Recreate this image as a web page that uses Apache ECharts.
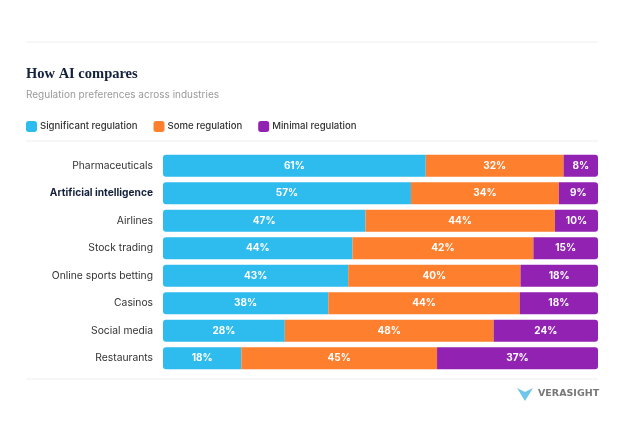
<!DOCTYPE html>
<html><head><meta charset="utf-8">
<script src="https://cdn.jsdelivr.net/npm/echarts@6/dist/echarts.min.js"></script>
<style>html,body{margin:0;padding:0;background:#fff}#c{width:624px;height:424px}</style>
</head><body><div id="c"></div>
<script>
const categories = ["Pharmaceuticals","Artificial intelligence","Airlines","Stock trading","Online sports betting","Casinos","Social media","Restaurants"];
const significant = [61,57,47,44,43,38,28,18];
const some = [32,34,44,42,40,44,48,45];
const minimal = [8,9,10,15,18,18,24,37];
const seriesNames = ["Significant regulation","Some regulation","Minimal regulation"];
const colors = ["#2EBBEE","#FE7F2D","#9222B2"];

const raw = [significant, some, minimal];
const totals = categories.map((c,i)=>significant[i]+some[i]+minimal[i]);
const radii = [[3,0,0,3],[0,0,0,0],[0,3,3,0]];

const chart = echarts.init(document.getElementById('c'));
chart.setOption({
  animation:false,
  backgroundColor:'#fff',
  color: colors,
  title:{
    text:'How AI compares', left:26, top:67, padding:0,
    textStyle:{fontFamily:'Liberation Serif', fontWeight:'bold', fontSize:14.5, color:'#14213d'},
    subtext:'Regulation preferences across industries',
    subtextStyle:{fontFamily:'Inter', fontSize:10, color:'#9a9a9a'}, itemGap:8
  },
  legend:{
    left:26, top:121, padding:0, itemWidth:11, itemHeight:11, itemGap:16,
    icon:'roundRect',
    textStyle:{fontFamily:'Inter', fontSize:9.6, color:'#333', fontWeight:500, padding:[0,0,0,-2]},
    data: seriesNames
  },
  grid:{left:163, right:26, top:152, bottom:52},
  xAxis:{type:'value', min:0, max:100, show:false},
  yAxis:{
    type:'category', inverse:true, data:categories,
    axisLine:{show:false}, axisTick:{show:false},
    axisLabel:{
      margin:10, fontFamily:'Inter', fontSize:10.3, color:'#333',
      formatter:(v)=> v==='Artificial intelligence' ? '{b|'+v+'}' : v,
      rich:{b:{fontFamily:'Inter', fontSize:10.2, fontWeight:'bold', color:'#14213d'}}
    }
  },
  series: seriesNames.map((name,k)=>({
    name, type:'bar', stack:'t', barWidth:22,
    itemStyle:{borderRadius:radii[k]},
    label:{show:true, position:'inside', color:'#fff', fontFamily:'Inter', fontWeight:'bold', fontSize:10,
      formatter:(p)=> raw[k][p.dataIndex]+'%'},
    data: raw[k].map((v,i)=> v/totals[i]*100)
  })),
  graphic:[
    {type:'line', shape:{x1:26,y1:42,x2:598,y2:42}, style:{stroke:'#eeeeee', lineWidth:1}},
    {type:'line', shape:{x1:26,y1:141,x2:598,y2:141}, style:{stroke:'#eeeeee', lineWidth:1}},
    {type:'line', shape:{x1:26,y1:379,x2:598,y2:379}, style:{stroke:'#eeeeee', lineWidth:1}},
    {type:'polygon', shape:{points:[[517,388],[525,392],[533,388],[525,401]]}, style:{fill:'#6EC6E8'}},
    {type:'text', left:538, top:389, style:{text:'VERASIGHT', font:'bold 9.5px "DejaVu Sans"', fill:'#777'}}
  ]
});
</script></body></html>
